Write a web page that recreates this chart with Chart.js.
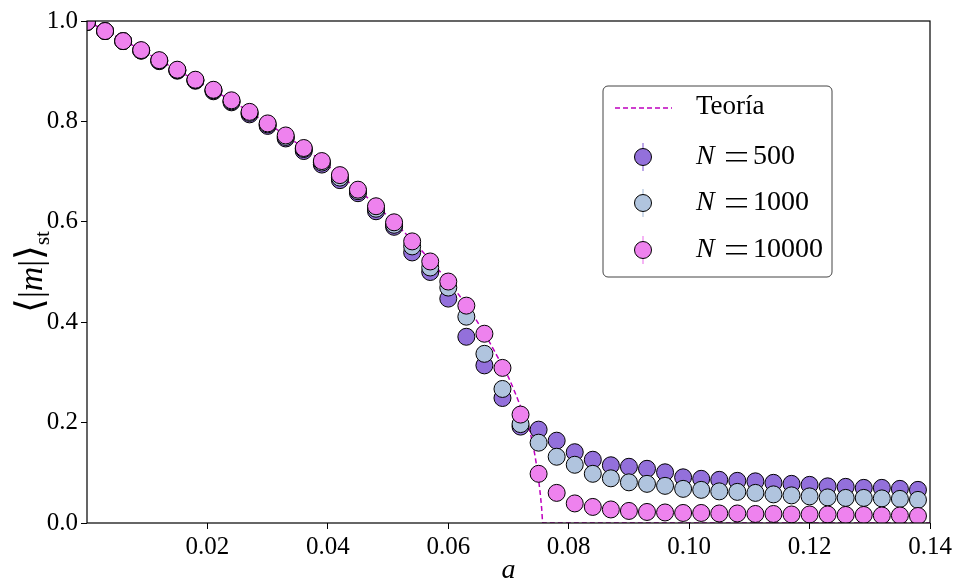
<!DOCTYPE html>
<html>
<head>
<meta charset="utf-8">
<script src="https://cdn.jsdelivr.net/npm/chart.js@4"></script>
<style>
  body { margin: 0; background: #fff; }
  #wrap { width: 955px; height: 583px; }
</style>
</head>
<body>
<div id="wrap"><canvas id="magChart" width="955" height="583"></canvas></div>
<script>
// control parameter a
const aValues = [
  0.000, 0.003, 0.006, 0.009, 0.012, 0.015, 0.018, 0.021, 0.024, 0.027,
  0.030, 0.033, 0.036, 0.039, 0.042, 0.045, 0.048, 0.051, 0.054, 0.057,
  0.060, 0.063, 0.066, 0.069, 0.072, 0.075, 0.078, 0.081, 0.084, 0.087,
  0.090, 0.093, 0.096, 0.099, 0.102, 0.105, 0.108, 0.111, 0.114, 0.117,
  0.120, 0.123, 0.126, 0.129, 0.132, 0.135, 0.138
];

// stationary <|m|> for each system size
const m500 = [
  0.998, 0.980, 0.960, 0.941, 0.920, 0.901, 0.881, 0.860, 0.838, 0.814,
  0.791, 0.766, 0.741, 0.714, 0.683, 0.657, 0.621, 0.590, 0.539, 0.500,
  0.447, 0.371, 0.314, 0.249, 0.192, 0.186, 0.164, 0.141, 0.126, 0.115,
  0.112, 0.108, 0.101, 0.091, 0.088, 0.086, 0.084, 0.083, 0.080, 0.078,
  0.076, 0.073, 0.072, 0.070, 0.070, 0.068, 0.066
];
const m1000 = [
  0.998, 0.980, 0.960, 0.941, 0.921, 0.902, 0.882, 0.862, 0.840, 0.817,
  0.794, 0.769, 0.745, 0.718, 0.688, 0.661, 0.626, 0.594, 0.551, 0.509,
  0.469, 0.411, 0.337, 0.267, 0.197, 0.160, 0.132, 0.116, 0.098, 0.089,
  0.081, 0.078, 0.074, 0.068, 0.066, 0.063, 0.062, 0.060, 0.057, 0.055,
  0.053, 0.051, 0.050, 0.050, 0.049, 0.048, 0.046
];
const m10000 = [
  0.998, 0.980, 0.960, 0.942, 0.922, 0.903, 0.883, 0.863, 0.842, 0.819,
  0.796, 0.772, 0.747, 0.721, 0.693, 0.664, 0.631, 0.599, 0.561, 0.521,
  0.481, 0.433, 0.377, 0.309, 0.216, 0.098, 0.060, 0.039, 0.032, 0.027,
  0.024, 0.022, 0.021, 0.020, 0.020, 0.019, 0.019, 0.018, 0.018, 0.017,
  0.017, 0.017, 0.016, 0.016, 0.015, 0.015, 0.014
];

// mean-field prediction
const theoryA = [
  0.000, 0.006, 0.012, 0.018, 0.024, 0.030, 0.036, 0.042, 0.048, 0.054,
  0.060, 0.063, 0.066, 0.068, 0.070, 0.072, 0.0736, 0.0747, 0.0752, 0.0755,
  0.0757, 0.140
];
const theoryM = [
  1.000, 0.962, 0.922, 0.882, 0.841, 0.796, 0.747, 0.693, 0.633, 0.563,
  0.481, 0.434, 0.378, 0.335, 0.290, 0.232, 0.180, 0.112, 0.066, 0.030,
  0.000, 0.000
];

const xTicks = [0.02, 0.04, 0.06, 0.08, 0.10, 0.12, 0.14];
const yTicks = [0.0, 0.2, 0.4, 0.6, 0.8, 1.0];

const sizeLabels = ['500', '1000', '10000'];
const seriesColors = ['#9370DB', '#B0C4DE', '#EE82EE'];
const theoryColor = '#BF00BF';

const SERIF = '"Liberation Serif", "DejaVu Serif", serif';

function pts(xs, ys) {
  return xs.map((x, i) => ({ x: x, y: ys[i] }));
}

// frame, axis titles and legend box
const decorPlugin = {
  id: 'decor',
  afterDraw(chart) {
    const ctx = chart.ctx;
    const area = chart.chartArea;
    ctx.save();

    ctx.strokeStyle = '#000';
    ctx.lineWidth = 1.2;
    ctx.strokeRect(area.left, area.top, area.right - area.left, area.bottom - area.top);

    // y title: <|m|>_st
    ctx.translate(31, (area.top + area.bottom) / 2);
    ctx.rotate(-Math.PI / 2);
    ctx.fillStyle = '#000';
    ctx.textBaseline = 'alphabetic';
    const parts = [
      { t: '\u27E8', f: '38px ' + SERIF },
      { t: '|', f: '34px ' + SERIF },
      { t: 'm', f: 'italic 34px ' + SERIF },
      { t: '|', f: '34px ' + SERIF },
      { t: '\u27E9', f: '38px ' + SERIF },
      { t: 'st', f: '21px ' + SERIF, dy: 7 }
    ];
    let total = 0;
    parts.forEach(p => { ctx.font = p.f; p.w = ctx.measureText(p.t).width; total += p.w; });
    let x = -total / 2;
    parts.forEach(p => {
      ctx.font = p.f;
      ctx.fillText(p.t, x, 11 + (p.dy || 0));
      x += p.w;
    });
    ctx.setTransform(1, 0, 0, 1, 0, 0);

    // legend
    const bx = 603, by = 86, bw = 229, bh = 191;
    ctx.beginPath();
    ctx.roundRect(bx, by, bw, bh, 5);
    ctx.fillStyle = '#fff';
    ctx.fill();
    ctx.strokeStyle = '#444';
    ctx.lineWidth = 1;
    ctx.stroke();

    ctx.strokeStyle = theoryColor;
    ctx.lineWidth = 1.5;
    ctx.setLineDash([5, 3]);
    ctx.beginPath();
    ctx.moveTo(615, 108);
    ctx.lineTo(672, 108);
    ctx.stroke();
    ctx.setLineDash([]);

    ctx.fillStyle = '#000';
    ctx.textBaseline = 'middle';
    ctx.font = '27px ' + SERIF;
    ctx.fillText('Teor\u00EDa', 696, 107);

    const rows = [157, 203, 250];
    sizeLabels.forEach((num, i) => {
      const cy = rows[i];
      ctx.strokeStyle = seriesColors[i];
      ctx.lineWidth = 1.2;
      ctx.beginPath();
      ctx.moveTo(643, cy - 14);
      ctx.lineTo(643, cy + 14);
      ctx.stroke();
      ctx.beginPath();
      ctx.arc(643, cy, 8.5, 0, Math.PI * 2);
      ctx.fillStyle = seriesColors[i];
      ctx.fill();
      ctx.strokeStyle = '#000';
      ctx.lineWidth = 1;
      ctx.stroke();

      ctx.fillStyle = '#000';
      ctx.font = 'italic 28px ' + SERIF;
      ctx.fillText('N', 696, cy);
      // wide equals sign
      ctx.fillRect(726, cy - 5, 21, 1.5);
      ctx.fillRect(726, cy + 3, 21, 1.5);
      ctx.font = '28px ' + SERIF;
      ctx.fillText(num, 753, cy);
    });

    // x title
    ctx.font = 'italic 28px ' + SERIF;
    ctx.textAlign = 'center';
    ctx.textBaseline = 'alphabetic';
    ctx.fillText('a', (area.left + area.right) / 2, 578);

    ctx.restore();
  }
};

const ctx = document.getElementById('magChart').getContext('2d');
new Chart(ctx, {
  type: 'scatter',
  data: {
    datasets: [
      {
        label: 'Teoría',
        data: pts(theoryA, theoryM),
        showLine: true,
        borderColor: theoryColor,
        borderWidth: 1.5,
        borderDash: [5, 3],
        pointRadius: 0,
        cubicInterpolationMode: 'monotone',
        order: 4
      },
      {
        label: 'N = ' + sizeLabels[0],
        data: pts(aValues, m500),
        backgroundColor: seriesColors[0],
        borderColor: '#000',
        borderWidth: 1,
        pointRadius: 8.5,
        order: 3
      },
      {
        label: 'N = ' + sizeLabels[1],
        data: pts(aValues, m1000),
        backgroundColor: seriesColors[1],
        borderColor: '#000',
        borderWidth: 1,
        pointRadius: 8.5,
        order: 2
      },
      {
        label: 'N = ' + sizeLabels[2],
        data: pts(aValues, m10000),
        backgroundColor: seriesColors[2],
        borderColor: '#000',
        borderWidth: 1,
        pointRadius: 8.5,
        order: 1
      }
    ]
  },
  options: {
    responsive: false,
    animation: false,
    clip: 0,
    layout: { padding: { top: 21, right: 25, left: 0, bottom: 0 } },
    plugins: {
      legend: { display: false },
      tooltip: { enabled: false }
    },
    scales: {
      x: {
        type: 'linear',
        min: 0,
        max: 0.14,
        afterFit: function(scale) { scale.height = 60; },
        afterBuildTicks: function(scale) {
          scale.ticks = xTicks.map(v => ({ value: v }));
        },
        border: { display: false },
        grid: { drawOnChartArea: false, drawTicks: true, tickLength: 6, color: '#000', tickWidth: 1 },
        ticks: {
          color: '#000',
          padding: 3,
          maxRotation: 0,
          autoSkip: false,
          font: { family: SERIF, size: 25 },
          callback: function(value) { return value.toFixed(2); }
        }
      },
      y: {
        min: 0,
        max: 1,
        afterFit: function(scale) { scale.width = 87; },
        afterBuildTicks: function(scale) {
          scale.ticks = yTicks.map(v => ({ value: v }));
        },
        border: { display: false },
        grid: { drawOnChartArea: false, drawTicks: true, tickLength: 6, color: '#000', tickWidth: 1 },
        ticks: {
          color: '#000',
          padding: 3,
          autoSkip: false,
          font: { family: SERIF, size: 25 },
          callback: function(value) { return value.toFixed(1); }
        }
      }
    }
  },
  plugins: [decorPlugin]
});
</script>
</body>
</html>
